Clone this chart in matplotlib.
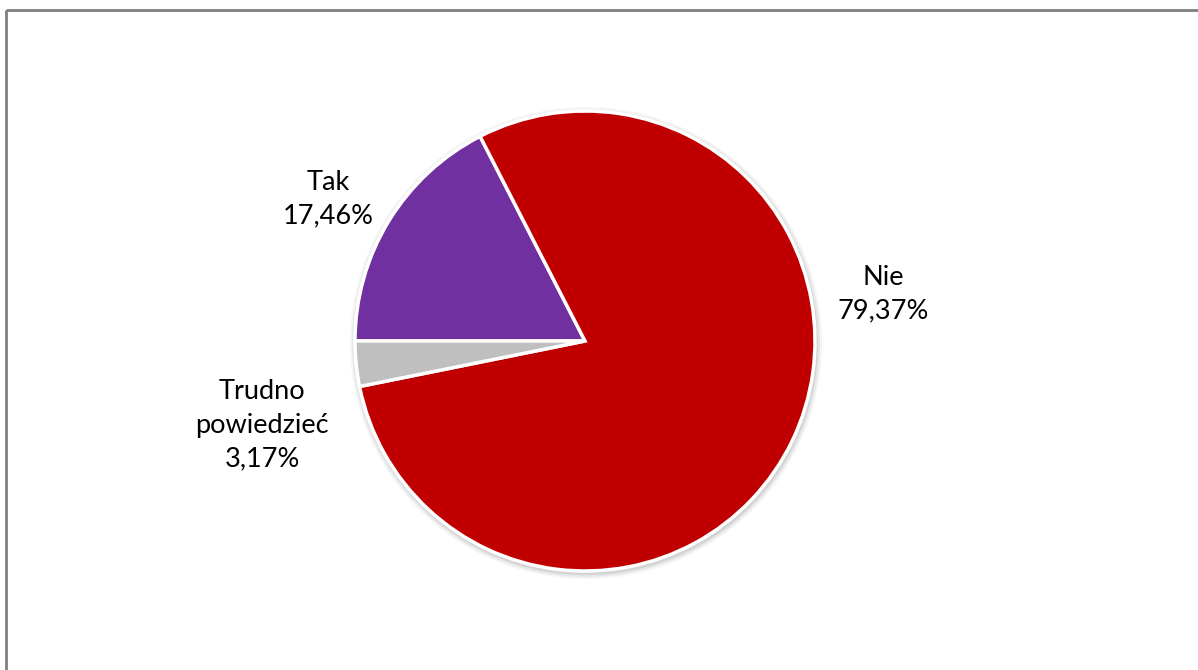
import matplotlib
matplotlib.use('Agg')
from matplotlib import pyplot as plt
from matplotlib.patches import Circle, Rectangle

# survey answers, in drawing order (clockwise from the left)
labels = ['Tak', 'Nie', 'Trudno\npowiedzieć']
shares = [17.46, 79.37, 3.17]
colors = ['#7030A0', '#C00000', '#BFBFBF']
label_pos = [(328, 199), (883, 294), (262, 425)]

plt.rcParams['font.family'] = ['Lato', 'DejaVu Sans']

fig = plt.figure(figsize=(11.98, 6.70), dpi=100)
ax = fig.add_axes([0, 0, 1, 1])

cx, cy, r = 585, 341, 230

# soft shadow under the pie
for k, a in [(6, 0.04), (4, 0.06), (2, 0.08)]:
    ax.add_patch(Circle((cx + 1, cy + 2), r + k, color='black', alpha=a, lw=0, zorder=0))

# y axis is flipped below, so counterclock=True ends up clockwise on screen
wedges, _ = ax.pie(shares, colors=colors, startangle=180, counterclock=True,
                   center=(cx, cy), radius=r,
                   wedgeprops=dict(edgecolor='white', linewidth=2.5))
for w in wedges:
    w.set_zorder(2)

ax.set_xlim(0, 1198)
ax.set_ylim(670, 0)
ax.set_aspect('equal')
ax.axis('off')

for lab, val, (x, y) in zip(labels, shares, label_pos):
    ax.text(x, y, lab + '\n' + ('%.2f' % val).replace('.', ',') + '%',
            ha='center', va='center', fontsize=19.5, color='black',
            linespacing=1.42, zorder=3)

# chart frame
ax.add_patch(Rectangle((6, 10), 1300, 800, fill=False, edgecolor='#808080', lw=2, zorder=1))

fig.savefig('out.png', dpi=100)
